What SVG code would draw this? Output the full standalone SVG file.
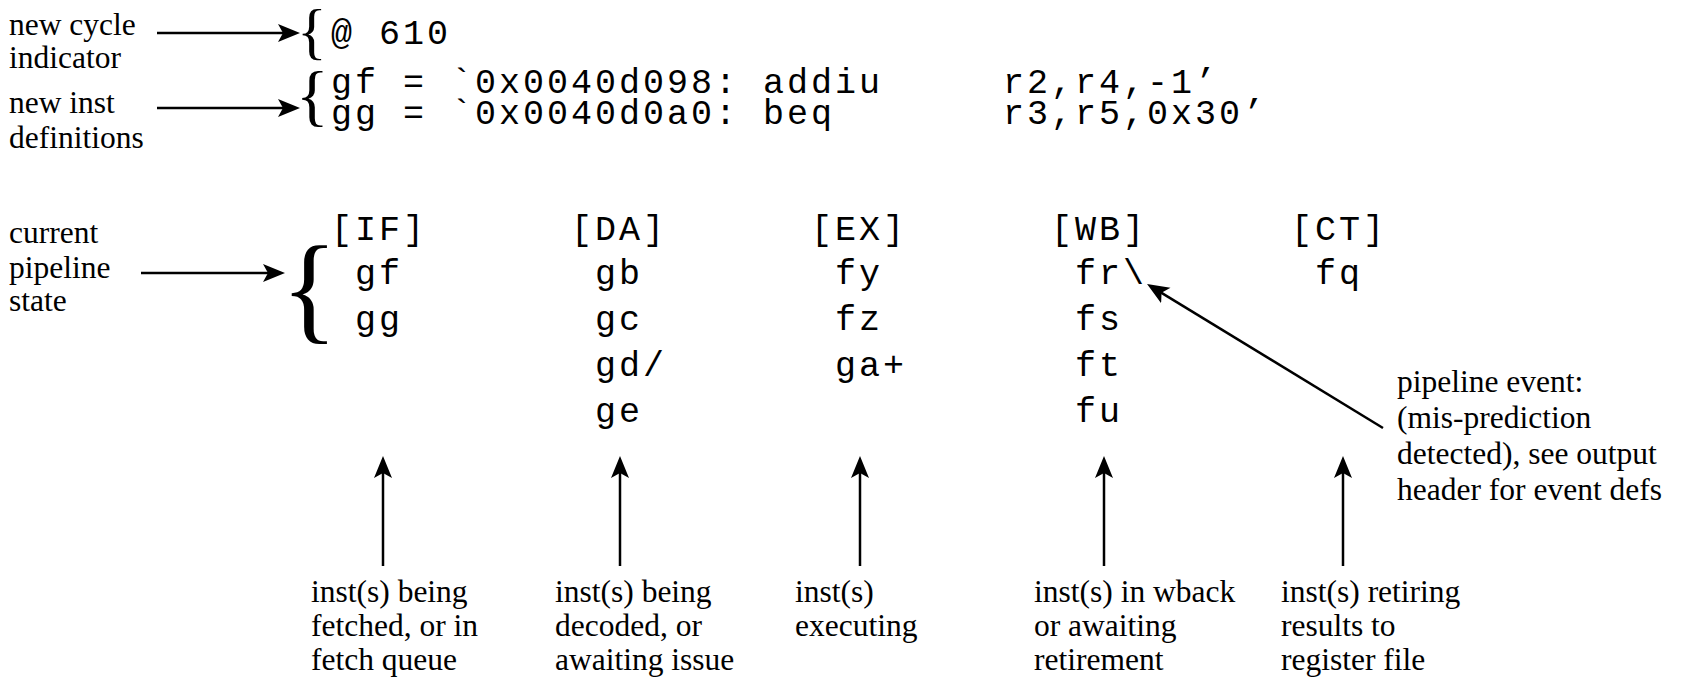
<svg xmlns="http://www.w3.org/2000/svg" width="1691" height="682" viewBox="0 0 1691 682">
<style>
.serif { font-family: "Liberation Serif", "Times New Roman", serif; font-size: 31.5px; fill: #000; }
.mono { font-family: "Liberation Mono", "Courier New", monospace; font-size: 35px; letter-spacing: 3px; fill: #000; }
.brace { font-family: "Liberation Serif", "Times New Roman", serif; fill: #000; }
.conn line { stroke: #000; stroke-width: 2.5; fill: none; marker-end: url(#ah); }
</style>
<defs>
<marker id="ah" markerUnits="userSpaceOnUse" markerWidth="24" markerHeight="22" refX="17" refY="10" orient="auto">
<path d="M0,1 L22,10 L0,19 L5,10 Z" fill="#000"/>
</marker>
</defs>
<rect width="1691" height="682" fill="#fff"/>

<g id="label-new-cycle">
<text class="serif" x="9" y="35">new cycle</text>
<text class="serif" x="9" y="68">indicator</text>
</g>
<g id="label-new-inst">
<text class="serif" x="9" y="113">new inst</text>
<text class="serif" x="9" y="148">definitions</text>
</g>
<g id="label-current">
<text class="serif" x="9" y="243">current</text>
<text class="serif" x="9" y="278">pipeline</text>
<text class="serif" x="9" y="311">state</text>
</g>

<g id="cycle">
<text class="brace" x="297" y="52" font-size="62">{</text>
<text class="mono" x="331" y="44">@ 610</text>
</g>

<g id="inst-defs">
<text class="brace" x="296" y="118" font-size="68">{</text>
<text class="mono" x="331" y="93">gf = `0x0040d098: addiu</text>
<text class="mono" x="1003" y="93">r2,r4,-1’</text>
<text class="mono" x="331" y="124">gg = `0x0040d0a0: beq</text>
<text class="mono" x="1003" y="124">r3,r5,0x30’</text>
</g>

<g id="pipeline-brace">
<text class="brace" x="281" y="328" font-size="118">{</text>
</g>

<g id="stage-IF">
<text class="mono" x="331" y="240">[IF]</text>
<text class="mono" x="355" y="284">gf</text>
<text class="mono" x="355" y="330">gg</text>
</g>
<g id="stage-DA">
<text class="mono" x="571" y="240">[DA]</text>
<text class="mono" x="595" y="284">gb</text>
<text class="mono" x="595" y="330">gc</text>
<text class="mono" x="595" y="376">gd/</text>
<text class="mono" x="595" y="422">ge</text>
</g>
<g id="stage-EX">
<text class="mono" x="811" y="240">[EX]</text>
<text class="mono" x="835" y="284">fy</text>
<text class="mono" x="835" y="330">fz</text>
<text class="mono" x="835" y="376">ga+</text>
</g>
<g id="stage-WB">
<text class="mono" x="1051" y="240">[WB]</text>
<text class="mono" x="1075" y="284">fr\</text>
<text class="mono" x="1075" y="330">fs</text>
<text class="mono" x="1075" y="376">ft</text>
<text class="mono" x="1075" y="422">fu</text>
</g>
<g id="stage-CT">
<text class="mono" x="1291" y="240">[CT]</text>
<text class="mono" x="1315" y="284">fq</text>
</g>

<g id="label-event">
<text class="serif" x="1397" y="392">pipeline event:</text>
<text class="serif" x="1397" y="428">(mis-prediction</text>
<text class="serif" x="1397" y="464">detected), see output</text>
<text class="serif" x="1397" y="500">header for event defs</text>
</g>

<g id="label-IF">
<text class="serif" x="311" y="602">inst(s) being</text>
<text class="serif" x="311" y="636">fetched, or in</text>
<text class="serif" x="311" y="670">fetch queue</text>
</g>
<g id="label-DA">
<text class="serif" x="555" y="602">inst(s) being</text>
<text class="serif" x="555" y="636">decoded, or</text>
<text class="serif" x="555" y="670">awaiting issue</text>
</g>
<g id="label-EX">
<text class="serif" x="795" y="602">inst(s)</text>
<text class="serif" x="795" y="636">executing</text>
</g>
<g id="label-WB">
<text class="serif" x="1034" y="602">inst(s) in wback</text>
<text class="serif" x="1034" y="636">or awaiting</text>
<text class="serif" x="1034" y="670">retirement</text>
</g>
<g id="label-CT">
<text class="serif" x="1281" y="602">inst(s) retiring</text>
<text class="serif" x="1281" y="636">results to</text>
<text class="serif" x="1281" y="670">register file</text>
</g>

<g id="connectors" class="conn">
<line x1="157" y1="33" x2="295" y2="33"/>
<line x1="157" y1="108" x2="295" y2="108"/>
<line x1="141" y1="273" x2="280" y2="273"/>
<line x1="383" y1="566" x2="383" y2="461"/>
<line x1="620" y1="566" x2="620" y2="461"/>
<line x1="860" y1="566" x2="860" y2="461"/>
<line x1="1104" y1="566" x2="1104" y2="461"/>
<line x1="1343" y1="566" x2="1343" y2="461"/>
<line x1="1383" y1="428" x2="1151.3" y2="286.6"/>
</g>
</svg>
